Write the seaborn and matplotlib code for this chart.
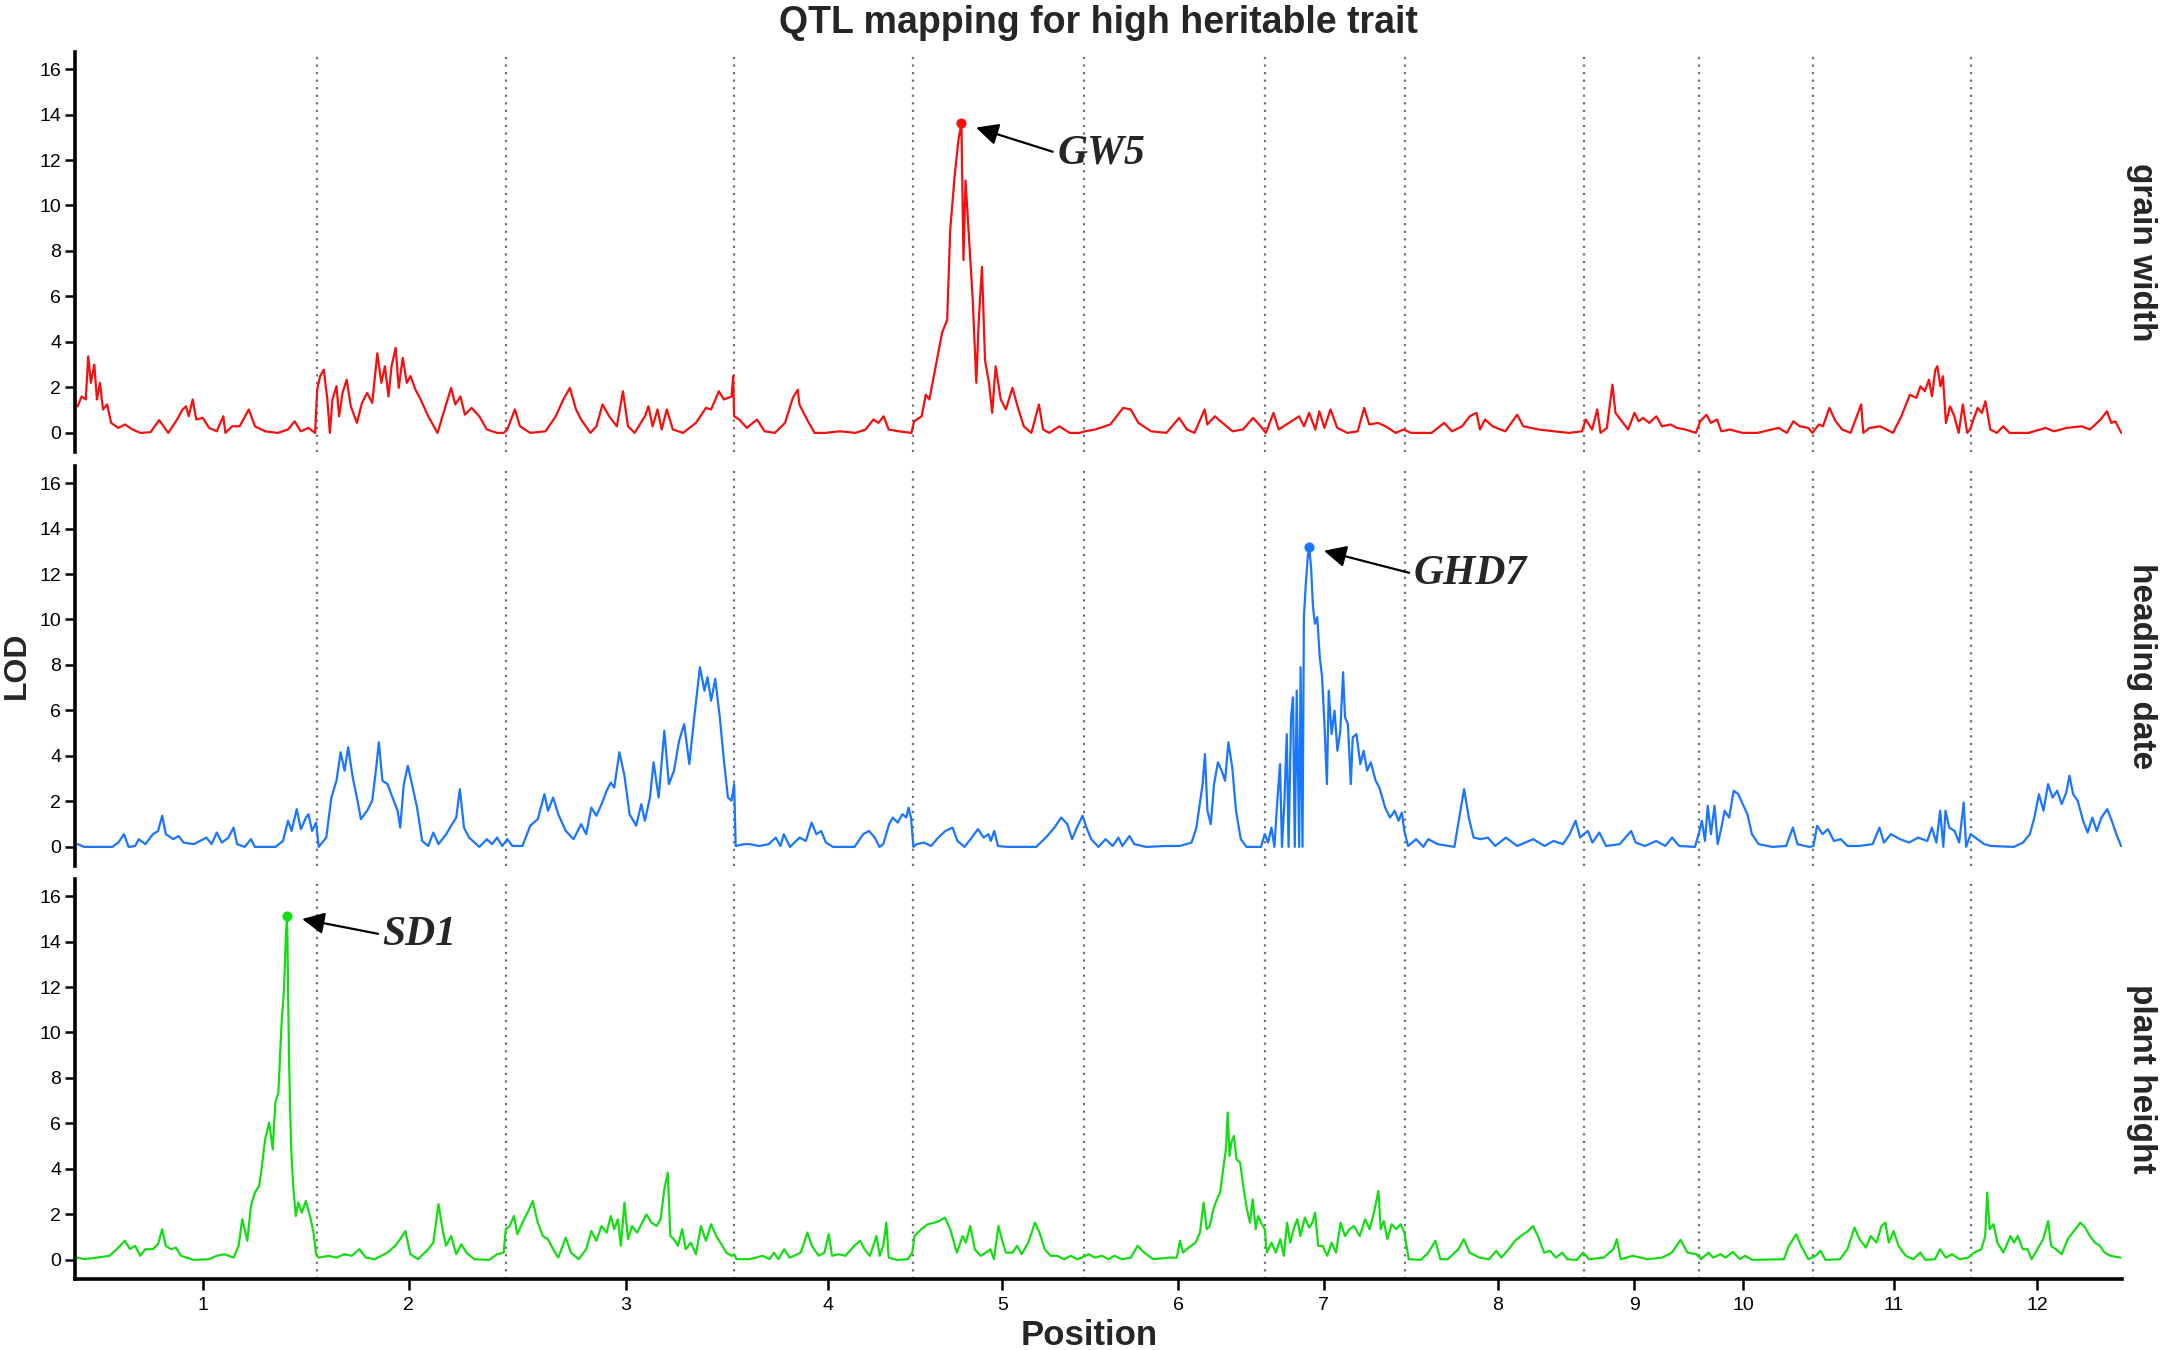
import numpy as np
import pandas as pd
import matplotlib.pyplot as plt
import seaborn as sns

TITLE = "QTL mapping for high heritable trait"
TRAITS = ["grain width", "heading date", "plant height"]
COLORS = {"grain width": "#F50F0F", "heading date": "#1A75FF", "plant height": "#14DD14"}

# cumulative genome position, chromosome borders and label positions
CHR_LABELS = [str(i) for i in range(1, 13)]
CHR_TICKS = [92.7, 242, 399, 546, 672, 799.5, 905, 1031, 1130, 1209, 1318, 1422]
CHR_BOUNDS = [175.5, 312, 477.7, 607.5, 731, 862.6, 964.2, 1093.6, 1176.8, 1259.5, 1374]

# (position, LOD)
GRAIN_WIDTH = [
    (1.9, 1.17), (4.8, 1.6), (7.8, 1.47), (9.6, 3.37), (11.5, 2.2), (14.0, 3.0), (15.9, 1.47), (18.1, 2.2),
    (20.3, 1.03), (23.3, 1.25), (26.2, 0.44), (31.4, 0.22), (36.2, 0.37), (41.7, 0.15), (47.3, 0.0), (54.7, 0.03),
    (61.0, 0.56), (67.6, 0.0), (73.2, 0.51), (78.0, 1.03), (80.5, 1.17), (82.4, 0.73), (85.3, 1.47), (87.9, 0.59),
    (92.7, 0.66), (97.2, 0.22), (102.7, 0.07), (107.5, 0.73), (109.0, 0.0), (113.8, 0.29), (119.3, 0.29),
    (126.0, 1.03), (130.4, 0.29), (137.8, 0.07), (147.0, 0.0), (154.4, 0.15), (159.2, 0.51), (163.6, 0.07),
    (169.2, 0.22), (174.0, 0.0),
    (175.5, 1.9), (177.7, 2.5), (180.3, 2.78), (182.9, 1.47), (184.7, 0.0), (186.6, 1.47), (189.5, 2.05),
    (191.4, 0.73), (193.9, 1.76), (196.9, 2.34), (199.9, 1.17), (204.3, 0.44), (208.0, 1.32), (211.7, 1.76),
    (215.4, 1.32), (219.1, 3.5), (222.0, 2.2), (224.6, 2.93), (227.2, 1.6), (229.4, 2.93), (232.4, 3.74),
    (234.6, 1.98), (237.5, 3.3), (240.5, 2.2), (243.1, 2.5), (246.8, 1.9), (250.5, 1.47), (256.0, 0.73),
    (262.7, 0.0), (267.1, 0.88), (272.6, 1.98), (275.6, 1.25), (279.3, 1.6), (282.6, 0.8), (287.4, 1.1),
    (293.0, 0.73), (298.5, 0.15), (305.9, 0.0), (310.7, 0.0),
    (313.3, 0.15), (318.8, 1.03), (322.5, 0.29), (329.9, 0.0), (341.0, 0.07), (348.4, 0.73), (353.9, 1.47),
    (358.7, 1.98), (363.1, 1.03), (366.8, 0.59), (373.5, 0.0), (377.9, 0.29), (382.3, 1.25), (387.2, 0.73),
    (392.7, 0.29), (397.1, 1.83), (400.8, 0.29), (405.6, 0.0), (413.0, 0.73), (415.6, 1.17), (418.6, 0.29),
    (422.2, 1.03), (425.2, 0.15), (428.9, 1.03), (433.3, 0.15), (440.7, 0.0), (450.0, 0.44), (457.3, 1.1),
    (461.0, 1.03), (466.6, 1.83), (470.3, 1.47), (475.8, 1.6), (477.0, 2.5), (477.7, 0.73),
    (481.4, 0.59), (486.9, 0.22), (494.3, 0.59), (499.8, 0.07), (507.2, 0.0), (514.6, 0.44), (520.2, 1.54),
    (523.8, 1.9), (525.0, 1.25), (530.5, 0.59), (536.0, 0.0), (543.5, 0.0), (554.5, 0.07), (565.6, 0.0),
    (573.0, 0.15), (578.6, 0.59), (582.3, 0.44), (586.0, 0.73), (589.7, 0.15), (597.0, 0.07), (606.2, 0.0),
    (608.1, 0.51), (613.6, 0.73), (616.6, 1.68), (619.2, 1.47), (622.9, 2.64), (628.4, 4.4), (632.1, 4.98),
    (634.3, 8.94), (637.7, 11.43), (640.3, 12.9), (642.4, 13.63), (643.9, 7.6), (645.4, 11.1), (647.7, 8.8),
    (650.6, 5.86), (653.2, 2.2), (655.0, 4.98), (657.3, 7.3), (659.5, 3.2), (662.4, 2.2), (664.7, 0.88),
    (667.2, 2.93), (670.9, 1.47), (674.6, 1.03), (679.4, 1.98), (683.1, 1.17), (687.6, 0.29), (693.1, 0.0),
    (698.6, 1.25), (701.6, 0.15), (706.0, 0.0), (713.4, 0.29), (720.8, 0.0), (728.2, 0.0),
    (731.9, 0.07), (739.3, 0.15), (750.3, 0.37), (759.6, 1.1), (765.1, 1.03), (770.7, 0.44), (779.9, 0.07),
    (791.0, 0.0), (800.2, 0.66), (805.8, 0.15), (811.3, 0.0), (818.7, 1.03), (820.6, 0.37), (826.1, 0.73),
    (831.6, 0.44), (839.0, 0.07), (846.4, 0.15), (853.8, 0.66), (859.3, 0.29),
    (863.0, 0.0), (868.6, 0.88), (872.3, 0.15), (879.7, 0.44), (887.1, 0.73), (890.7, 0.29), (894.4, 0.88),
    (898.9, 0.15), (901.8, 0.95), (905.5, 0.22), (909.9, 1.03), (914.8, 0.22), (922.2, 0.0), (929.6, 0.07),
    (934.3, 1.1), (938.0, 0.37), (944.3, 0.44), (949.8, 0.29), (957.2, 0.0), (962.8, 0.15),
    (968.3, 0.0), (983.1, 0.0), (992.3, 0.44), (997.9, 0.07), (1005.3, 0.29), (1010.8, 0.73), (1015.7, 0.88),
    (1018.2, 0.15), (1021.9, 0.59), (1027.4, 0.29), (1033.0, 0.15), (1036.6, 0.07), (1045.2, 0.8),
    (1049.6, 0.29), (1060.7, 0.15), (1071.8, 0.07), (1082.9, 0.0), (1092.1, 0.07),
    (1094.9, 0.59), (1099.5, 0.15), (1103.2, 1.03), (1105.6, 0.0), (1110.2, 0.22), (1114.2, 2.12),
    (1116.4, 0.88), (1121.0, 0.51), (1125.6, 0.15), (1130.2, 0.88), (1133.2, 0.51), (1136.3, 0.66),
    (1140.9, 0.44), (1146.1, 0.73), (1150.1, 0.29), (1156.3, 0.37), (1160.9, 0.22), (1167.0, 0.15), (1174.7, 0.0),
    (1177.8, 0.51), (1182.4, 0.8), (1185.5, 0.44), (1190.1, 0.59), (1193.1, 0.07), (1199.3, 0.15),
    (1208.5, 0.0), (1219.2, 0.0), (1234.6, 0.22), (1240.7, 0.0), (1245.3, 0.51), (1250.0, 0.29),
    (1256.1, 0.22), (1259.2, 0.0),
    (1263.8, 0.37), (1266.8, 0.29), (1271.4, 1.1), (1276.0, 0.51), (1280.7, 0.15), (1286.8, 0.0),
    (1294.5, 1.25), (1296.0, 0.0), (1300.6, 0.22), (1308.3, 0.29), (1317.5, 0.0), (1323.6, 0.73),
    (1329.8, 1.68), (1334.4, 1.54), (1337.5, 2.05), (1340.5, 1.83), (1343.6, 2.34), (1345.8, 1.61),
    (1348.2, 2.78), (1349.7, 2.93), (1351.9, 2.05), (1353.7, 2.49), (1355.9, 0.44), (1358.9, 1.17),
    (1362.0, 0.73), (1365.1, 0.0), (1368.2, 1.25), (1371.3, 0.0), (1373.4, 0.15),
    (1375.8, 0.59), (1378.9, 1.1), (1382.0, 0.88), (1384.5, 1.39), (1388.1, 0.15), (1392.8, 0.0),
    (1397.4, 0.29), (1402.0, 0.0), (1415.8, 0.0), (1428.1, 0.22), (1434.2, 0.07), (1443.4, 0.22),
    (1454.2, 0.29), (1460.3, 0.15), (1468.0, 0.59), (1472.6, 0.95), (1475.7, 0.44), (1478.7, 0.51), (1483.0, 0.0),
]

HEADING_DATE = [
    (1.9, 0.12), (6.7, 0.0), (27.0, 0.0), (31.4, 0.19), (35.5, 0.56), (38.8, 0.0), (43.6, 0.04), (46.2, 0.34),
    (51.0, 0.12), (56.5, 0.56), (60.2, 0.7), (63.2, 1.37), (65.8, 0.56), (71.3, 0.34), (75.0, 0.48), (78.7, 0.19),
    (86.1, 0.12), (95.3, 0.41), (99.0, 0.12), (102.7, 0.63), (106.4, 0.19), (111.2, 0.41), (114.9, 0.85),
    (117.5, 0.12), (123.0, 0.0), (127.5, 0.34), (130.4, 0.0), (145.2, 0.0), (150.7, 0.26), (154.4, 1.15),
    (157.0, 0.7), (160.7, 1.66), (163.7, 0.78), (167.4, 1.29), (169.2, 1.44), (171.8, 0.7), (174.7, 1.07),
    (176.6, 0.0), (182.1, 0.41), (185.8, 2.17), (189.5, 2.91), (192.5, 4.16), (195.4, 3.35), (198.0, 4.38),
    (201.3, 3.05), (204.3, 2.17), (207.2, 1.22), (211.7, 1.59), (215.4, 2.03), (218.3, 3.49), (220.2, 4.6),
    (222.8, 2.91), (226.5, 2.76), (230.1, 2.17), (233.8, 1.59), (235.7, 0.85), (238.3, 2.76), (241.2, 3.57),
    (244.2, 2.76), (247.9, 1.73), (251.6, 0.26), (256.0, 0.04), (259.7, 0.63), (263.4, 0.12), (269.0, 0.56),
    (272.6, 0.93), (276.3, 1.29), (278.9, 2.54), (281.9, 0.85), (285.6, 0.41), (293.0, 0.0), (298.5, 0.34),
    (302.2, 0.12), (305.9, 0.41), (309.6, 0.04),
    (313.3, 0.34), (317.0, 0.04), (324.3, 0.04), (329.9, 0.93), (335.4, 1.22), (340.2, 2.32), (342.8, 1.59),
    (346.5, 2.17), (350.2, 1.44), (355.7, 0.7), (361.3, 0.34), (366.8, 1.0), (370.5, 0.56), (374.2, 1.73),
    (377.9, 1.37), (381.6, 1.88), (385.3, 2.47), (388.3, 2.83), (390.8, 2.61), (394.5, 4.16), (398.2, 3.13),
    (401.9, 1.44), (406.7, 0.93), (410.4, 1.88), (413.0, 1.15), (416.7, 2.17), (419.3, 3.72), (423.0, 2.17),
    (427.1, 5.11), (430.4, 2.76), (434.1, 3.35), (437.8, 4.67), (441.5, 5.4), (445.2, 3.64), (448.8, 5.7),
    (452.9, 7.9), (456.2, 6.87), (458.4, 7.46), (461.0, 6.43), (464.0, 7.39), (467.3, 5.7), (470.3, 3.79),
    (473.2, 2.17), (475.8, 2.03), (477.7, 2.76),
    (478.8, 0.04), (485.0, 0.12), (488.8, 0.12), (495.7, 0.04), (502.7, 0.12), (507.9, 0.41), (511.3, 0.04),
    (513.7, 0.56), (518.2, 0.0), (525.2, 0.41), (529.7, 0.26), (533.8, 1.07), (537.3, 0.56), (540.8, 0.7),
    (544.2, 0.19), (549.4, 0.0), (565.0, 0.0), (571.2, 0.56), (575.4, 0.7), (579.6, 0.41), (583.0, 0.0),
    (585.8, 0.12), (590.0, 1.0), (592.7, 1.29), (596.2, 1.07), (599.7, 1.44), (602.4, 1.29), (604.1, 1.73),
    (605.9, 1.29), (607.6, 0.0),
    (610.0, 0.12), (615.2, 0.19), (620.4, 0.04), (625.6, 0.41), (630.8, 0.7), (636.0, 0.85), (639.5, 0.26),
    (644.7, 0.0), (649.9, 0.41), (654.4, 0.78), (658.5, 0.41), (662.0, 0.56), (663.7, 0.26), (666.2, 0.7),
    (668.9, 0.04), (675.9, 0.0), (696.6, 0.0), (703.6, 0.41), (709.8, 0.85), (714.7, 1.29), (719.2, 1.0),
    (722.6, 0.34), (726.1, 0.85), (730.2, 1.37),
    (733.0, 0.85), (736.5, 0.34), (741.7, 0.0), (746.9, 0.34), (752.1, 0.04), (756.2, 0.41), (759.0, 0.04),
    (764.2, 0.48), (767.7, 0.12), (776.3, 0.0), (790.2, 0.04), (800.6, 0.04), (809.2, 0.19), (812.7, 0.85),
    (815.1, 1.88), (817.2, 2.76), (818.9, 4.08), (820.7, 1.59), (823.1, 1.0), (825.5, 2.76), (828.3, 3.72),
    (831.0, 3.35), (833.5, 2.91), (835.9, 4.6), (838.7, 3.49), (841.4, 1.59), (844.9, 0.34), (849.0, 0.0),
    (859.5, 0.0), (862.2, 0.56),
    (864.7, 0.19), (867.1, 0.85), (869.2, 0.0), (871.2, 1.88), (873.3, 3.64), (874.7, 0.0), (876.4, 1.88),
    (878.2, 4.96), (879.5, 0.0), (881.3, 5.7), (882.7, 6.58), (884.0, 0.0), (885.4, 6.87), (887.2, 0.0),
    (888.2, 7.9), (889.6, 0.0), (890.6, 10.1), (892.0, 11.57), (893.4, 12.75), (894.4, 13.19), (895.8, 12.3),
    (897.2, 10.54), (898.6, 9.81), (900.3, 10.1), (902.1, 8.34), (903.8, 7.46), (905.5, 5.4), (907.3, 2.76),
    (908.6, 6.87), (910.7, 4.96), (912.8, 5.99), (914.9, 4.23), (917.0, 5.11), (919.0, 7.68), (920.4, 5.7),
    (922.5, 5.4), (924.6, 2.76), (926.0, 4.82), (928.7, 4.96), (931.5, 3.64), (933.9, 4.23), (936.4, 3.35),
    (939.1, 3.72), (942.6, 2.91), (945.3, 2.61), (949.5, 1.73), (953.0, 1.29), (956.4, 1.59), (959.2, 1.15),
    (961.6, 1.51), (963.4, 0.7),
    (966.1, 0.04), (972.0, 0.34), (977.2, 0.0), (980.7, 0.34), (987.6, 0.12), (999.7, 0.0), (1003.2, 1.29),
    (1006.7, 2.54), (1010.1, 1.29), (1013.6, 0.41), (1018.8, 0.34), (1024.0, 0.41), (1029.2, 0.04),
    (1037.0, 0.41), (1045.2, 0.04), (1056.8, 0.34), (1065.0, 0.04), (1071.6, 0.26), (1078.3, 0.12),
    (1083.2, 0.56), (1087.5, 1.15), (1090.8, 0.41), (1093.4, 0.56),
    (1096.4, 0.7), (1099.7, 0.19), (1104.7, 0.63), (1109.6, 0.04), (1119.5, 0.12), (1127.8, 0.7),
    (1131.1, 0.19), (1137.7, 0.04), (1146.0, 0.26), (1152.5, 0.04), (1157.5, 0.41), (1162.5, 0.04),
    (1174.0, 0.0), (1176.7, 0.56),
    (1179.0, 1.15), (1181.3, 0.26), (1183.3, 1.81), (1185.6, 0.56), (1188.2, 1.81), (1190.5, 0.12),
    (1193.2, 0.85), (1195.5, 1.59), (1198.8, 1.29), (1202.1, 2.47), (1205.4, 2.32), (1208.7, 1.88),
    (1212.0, 1.44), (1215.3, 0.56), (1220.2, 0.12), (1230.1, 0.0), (1240.1, 0.04), (1245.0, 0.85),
    (1248.3, 0.12), (1256.6, 0.0), (1259.9, 0.04),
    (1262.5, 0.93), (1266.5, 0.56), (1270.4, 0.78), (1274.7, 0.26), (1279.7, 0.34), (1284.6, 0.04),
    (1292.9, 0.04), (1302.8, 0.12), (1307.7, 0.85), (1311.0, 0.19), (1316.0, 0.56), (1322.6, 0.34),
    (1329.2, 0.19), (1335.8, 0.41), (1342.4, 0.26), (1345.7, 0.85), (1349.0, 0.19), (1351.7, 1.59),
    (1354.0, 0.0), (1355.6, 1.59), (1358.3, 0.85), (1362.2, 0.7), (1365.5, 0.19), (1368.8, 1.95),
    (1370.5, 0.0), (1373.8, 0.56),
    (1378.7, 0.34), (1383.7, 0.12), (1388.6, 0.04), (1405.1, 0.0), (1411.8, 0.19), (1416.7, 0.56),
    (1420.0, 1.29), (1423.3, 2.32), (1426.6, 1.59), (1429.9, 2.76), (1433.2, 2.17), (1436.5, 2.47),
    (1439.8, 1.88), (1443.1, 2.39), (1445.4, 3.13), (1448.1, 2.32), (1451.4, 2.03), (1455.3, 1.15),
    (1458.6, 0.63), (1462.0, 1.29), (1465.2, 0.7), (1468.6, 1.29), (1472.8, 1.66), (1476.1, 1.15),
    (1479.4, 0.56), (1482.8, 0.04),
]

PLANT_HEIGHT = [
    (1.9, 0.1), (6.7, 0.03), (15.9, 0.1), (25.1, 0.18), (31.4, 0.54), (36.2, 0.84), (39.9, 0.47), (43.6, 0.62),
    (47.3, 0.18), (51.0, 0.47), (56.5, 0.47), (60.2, 0.69), (63.2, 1.35), (65.8, 0.62), (69.5, 0.47),
    (73.2, 0.54), (76.8, 0.18), (86.1, 0.0), (97.2, 0.03), (102.7, 0.18), (108.2, 0.25), (114.9, 0.1),
    (118.6, 0.62), (121.2, 1.79), (124.9, 0.84), (127.5, 2.37), (130.4, 2.96), (133.4, 3.25), (135.2, 3.99),
    (137.8, 5.3), (140.7, 6.04), (143.3, 4.86), (145.2, 6.92), (147.4, 7.36), (149.6, 10.29), (151.5, 11.9),
    (152.9, 14.39), (153.7, 15.12), (155.2, 8.53), (156.6, 5.01), (158.1, 3.25), (160.0, 1.93), (161.8, 2.52),
    (164.4, 2.08), (167.3, 2.59), (170.3, 1.93), (172.9, 1.2), (174.7, 0.25),
    (176.6, 0.1), (184.0, 0.18), (189.5, 0.1), (195.1, 0.25), (200.6, 0.18), (206.1, 0.47), (210.9, 0.1),
    (217.2, 0.03), (226.5, 0.32), (232.0, 0.62), (235.7, 0.91), (239.4, 1.27), (243.1, 0.25), (248.6, 0.03),
    (256.0, 0.47), (259.7, 0.76), (263.4, 2.45), (266.4, 1.35), (268.9, 0.62), (272.6, 1.05), (276.3, 0.25),
    (280.0, 0.69), (283.7, 0.32), (289.3, 0.03), (300.3, 0.0), (305.9, 0.25), (310.7, 0.32),
    (312.2, 1.35), (315.1, 1.49), (318.1, 1.93), (320.6, 1.13), (324.3, 1.64), (328.0, 2.08), (331.7, 2.59),
    (335.4, 1.64), (339.1, 1.05), (342.8, 0.91), (346.5, 0.47), (350.2, 0.1), (355.7, 0.98), (359.4, 0.32),
    (365.0, 0.03), (370.5, 0.47), (374.2, 1.27), (377.9, 0.84), (381.6, 1.49), (385.3, 1.2), (388.3, 1.93),
    (390.8, 1.35), (393.4, 1.79), (395.6, 0.62), (398.2, 2.52), (400.8, 0.91), (403.7, 1.49), (407.4, 1.2),
    (411.1, 1.64), (414.1, 2.0), (417.8, 1.64), (421.5, 1.49), (424.4, 1.79), (427.1, 3.11), (429.6, 3.84),
    (431.5, 1.05), (434.1, 0.91), (437.0, 0.62), (440.0, 1.35), (442.6, 0.47), (446.3, 0.76), (450.0, 0.25),
    (453.6, 1.49), (457.3, 0.84), (461.0, 1.57), (464.7, 1.05), (468.4, 0.69), (472.1, 0.32), (475.8, 0.18),
    (477.7, 0.25),
    (479.5, 0.03), (488.8, 0.03), (498.5, 0.18), (503.3, 0.03), (506.6, 0.32), (509.8, 0.03), (514.0, 0.47),
    (517.9, 0.1), (521.1, 0.18), (526.0, 0.32), (530.8, 1.2), (534.1, 0.62), (538.9, 0.18), (543.1, 0.32),
    (546.3, 1.13), (548.6, 0.18), (553.5, 0.25), (558.3, 0.18), (564.8, 0.62), (569.0, 0.84), (572.2, 0.47),
    (576.1, 0.18), (580.9, 1.05), (583.2, 0.18), (585.8, 0.62), (588.0, 1.64), (589.7, 0.1), (595.5, 0.0),
    (603.6, 0.03), (606.8, 0.32),
    (608.4, 1.05), (613.3, 1.35), (618.1, 1.57), (623.0, 1.64), (626.2, 1.71), (630.4, 1.86), (634.3, 1.35),
    (639.1, 0.32), (643.3, 1.05), (645.6, 0.76), (648.8, 1.49), (652.1, 0.47), (656.3, 0.18), (660.1, 0.32),
    (663.4, 0.47), (666.0, 0.03), (669.2, 1.49), (672.4, 0.76), (674.7, 0.32), (679.5, 0.32), (682.8, 0.62),
    (686.0, 0.25), (690.9, 0.76), (695.7, 1.64), (699.0, 1.2), (702.8, 0.47), (707.0, 0.18), (711.9, 0.18),
    (716.7, 0.03), (721.6, 0.18), (726.4, 0.03), (729.7, 0.1),
    (734.5, 0.25), (739.3, 0.1), (744.2, 0.18), (749.0, 0.03), (753.3, 0.18), (758.8, 0.03), (765.2, 0.1),
    (770.1, 0.62), (774.9, 0.32), (781.4, 0.03), (792.7, 0.1), (798.5, 0.1), (800.8, 0.84), (803.0, 0.32),
    (805.6, 0.47), (808.9, 0.62), (812.1, 0.76), (815.3, 1.2), (817.9, 2.52), (820.2, 1.35), (822.4, 1.49),
    (825.0, 2.23), (827.6, 2.67), (829.9, 2.96), (832.1, 3.99), (834.1, 4.86), (835.4, 6.48), (836.7, 4.57),
    (838.0, 5.16), (839.9, 5.45), (841.8, 4.42), (844.4, 4.28), (847.0, 3.11), (849.3, 2.23), (851.5, 1.64),
    (853.5, 2.67), (855.7, 1.35), (857.4, 1.93), (859.6, 1.64), (862.2, 1.35),
    (863.8, 0.32), (867.1, 0.76), (870.3, 0.32), (873.5, 0.91), (876.1, 0.18), (878.4, 1.64), (880.7, 0.76),
    (883.2, 1.35), (885.8, 1.79), (888.1, 1.05), (891.3, 1.86), (894.5, 1.42), (896.8, 1.64), (898.7, 2.08),
    (901.0, 0.62), (904.2, 0.62), (907.5, 0.18), (910.7, 0.76), (913.9, 0.32), (917.2, 1.64), (920.4, 1.05),
    (923.6, 1.35), (926.9, 1.49), (931.1, 1.05), (935.0, 1.79), (938.2, 1.35), (941.4, 2.08), (944.6, 3.03),
    (946.3, 1.35), (948.5, 1.71), (951.1, 0.91), (954.3, 1.57), (957.6, 1.35), (960.8, 1.57), (963.4, 1.2),
    (966.6, 0.03), (975.4, 0.0), (980.7, 0.32), (986.0, 0.84), (989.5, 0.03), (994.8, 0.03), (1002.6, 0.47),
    (1006.5, 0.91), (1010.7, 0.32), (1017.8, 0.1), (1024.8, 0.03), (1030.1, 0.4), (1033.7, 0.1), (1039.0, 0.47),
    (1043.6, 0.84), (1047.8, 1.05), (1053.1, 1.27), (1056.6, 1.49), (1060.2, 1.05), (1064.8, 0.32),
    (1069.0, 0.4), (1073.2, 0.1), (1077.8, 0.32), (1081.4, 0.03), (1088.4, 0.0), (1093.0, 0.32),
    (1097.3, 0.03), (1107.8, 0.1), (1114.9, 0.47), (1117.4, 0.91), (1120.2, 0.03), (1129.0, 0.18),
    (1139.6, 0.03), (1150.2, 0.1), (1157.3, 0.32), (1163.6, 0.88), (1168.6, 0.32), (1175.0, 0.25),
    (1178.5, 0.03), (1183.8, 0.32), (1187.3, 0.1), (1192.6, 0.25), (1196.2, 0.1), (1201.5, 0.35),
    (1206.7, 0.03), (1210.3, 0.18), (1215.6, 0.0), (1238.5, 0.03), (1242.1, 0.62), (1247.4, 1.13),
    (1250.9, 0.62), (1256.2, 0.03),
    (1261.5, 0.18), (1265.0, 0.4), (1268.6, 0.0), (1279.1, 0.03), (1284.5, 0.47), (1289.7, 1.42),
    (1293.3, 0.91), (1297.9, 0.54), (1301.4, 1.05), (1305.6, 0.76), (1309.2, 1.49), (1312.0, 1.64),
    (1314.5, 0.76), (1318.0, 1.27), (1321.5, 0.62), (1326.8, 0.18), (1332.1, 0.03), (1337.4, 0.32),
    (1341.0, 0.0), (1348.0, 0.03), (1351.6, 0.47), (1355.8, 0.1), (1360.4, 0.25), (1365.7, 0.03), (1372.0, 0.1),
    (1376.3, 0.32), (1381.6, 0.47), (1384.4, 1.05), (1385.8, 2.96), (1387.6, 1.35), (1390.4, 1.57),
    (1393.2, 0.76), (1397.5, 0.32), (1402.7, 1.05), (1405.2, 0.76), (1408.0, 1.05), (1411.6, 0.47),
    (1415.1, 0.47), (1418.0, 0.03), (1422.2, 0.47), (1426.4, 0.91), (1430.0, 1.71), (1432.1, 0.62),
    (1435.6, 0.47), (1439.9, 0.25), (1444.1, 0.91), (1448.7, 1.27), (1453.3, 1.64), (1456.8, 1.42),
    (1460.3, 1.05), (1463.9, 0.76), (1467.4, 0.62), (1471.0, 0.32), (1475.2, 0.18), (1482.3, 0.1),
]

# known genes at the top peaks: trait, gene, peak (pos, LOD), label (pos, LOD)
GENES = ["GW5", "GHD7", "SD1"]
GENE_TRAIT = ["grain width", "heading date", "plant height"]
GENE_PEAK = [(642.4, 13.63), (894.4, 13.19), (153.7, 15.12)]
GENE_LABEL = [(711.9, 12.3), (970.3, 12.0), (223.0, 14.3)]


def to_frame(points, trait):
    pos, lod = zip(*points)
    return pd.DataFrame({"pos": pos, "lod": lod, "trait": trait})


df = pd.concat([to_frame(GRAIN_WIDTH, TRAITS[0]),
                to_frame(HEADING_DATE, TRAITS[1]),
                to_frame(PLANT_HEIGHT, TRAITS[2])], ignore_index=True)

sns.set_style("ticks")
plt.rcParams["font.family"] = ["Liberation Sans", "DejaVu Sans"]

g = sns.FacetGrid(df, row="trait", row_order=TRAITS, hue="trait", hue_order=TRAITS,
                  palette=COLORS, height=4.5, aspect=21.65 / 4.5, sharex=True, sharey=True)
g.map_dataframe(sns.lineplot, x="pos", y="lod", linewidth=1.6, estimator=None, legend=False)
g.set_axis_labels("", "")
g.set(xlim=(0, 1483.5), ylim=(-0.84, 16.75), yticks=range(0, 17, 2), xticks=CHR_TICKS)

fig = g.figure
fig.set_size_inches(21.65, 13.5)
bottoms = [1 - 452 / 1350, 1 - 866 / 1350, 1 - 1279 / 1350]

for i, (ax, trait) in enumerate(zip(g.axes.flat, TRAITS)):
    ax.set_title("")
    leg = ax.get_legend()
    if leg is not None:
        leg.remove()
    for b in CHR_BOUNDS:
        ax.axvline(b, color="#707070", lw=1.6, ls=(0, (1, 2.4)), zorder=0)
    for side in ["left", "bottom"]:
        ax.spines[side].set_linewidth(2.6)
        ax.spines[side].set_color("black")
    ax.tick_params(axis="y", length=7, width=1.8, labelsize=14, pad=3, colors="black")
    if i < 2:
        ax.spines["bottom"].set_visible(False)
        ax.tick_params(axis="x", bottom=False, labelbottom=False)
    else:
        ax.set_xticklabels(CHR_LABELS)
        ax.tick_params(axis="x", length=8, width=1.8, labelsize=14, pad=5, colors="black")
    ax.text(1.002, 0.5, trait, transform=ax.transAxes, rotation=270, ha="left", va="center",
            fontsize=24, fontweight="bold")
    ax.set_position([75 / 2165, bottoms[i], 2047 / 2165, 400 / 1350])

for gene, trait, peak, label in zip(GENES, GENE_TRAIT, GENE_PEAK, GENE_LABEL):
    ax = g.axes.flat[TRAITS.index(trait)]
    sns.scatterplot(x=[peak[0]], y=[peak[1]], ax=ax, color=COLORS[trait], s=45,
                    edgecolor=COLORS[trait], zorder=5, legend=False)
    ax.annotate(gene, xy=peak, xytext=label, ha="left", va="center", fontsize=30,
                family=["Liberation Serif", "DejaVu Serif"], style="italic", weight="bold",
                arrowprops=dict(arrowstyle="-|>,head_length=0.45,head_width=0.22", mutation_scale=30,
                                color="black", lw=1.6, shrinkA=1, shrinkB=11, relpos=(0.0, 0.5)))

fig.text(0.5073, 1 - 33 / 1350, TITLE, ha="center", va="baseline", fontsize=27, fontweight="bold")
fig.text(0.008, 0.507, "LOD", rotation=90, ha="center", va="center", fontsize=23, fontweight="bold")
fig.text(0.503, 1 - 1345 / 1350, "Position", ha="center", va="baseline", fontsize=25, fontweight="bold")

fig.savefig("out.png", dpi=100)
